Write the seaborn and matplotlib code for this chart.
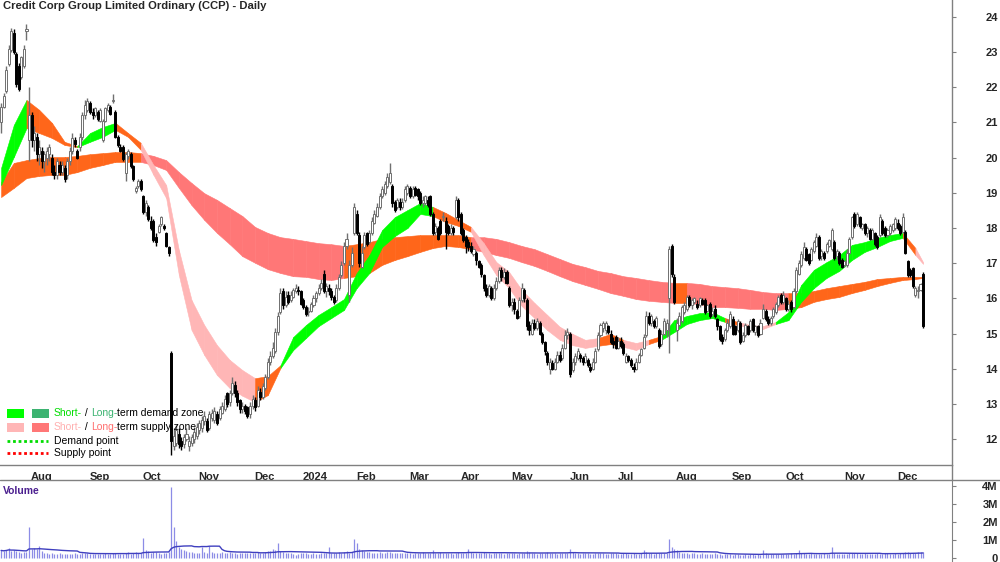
import numpy as np
import pandas as pd
import matplotlib
matplotlib.use("Agg")
import matplotlib.pyplot as plt
import matplotlib.transforms as mtransforms
from matplotlib.patches import Rectangle
from matplotlib.lines import Line2D
import seaborn as sns

sns.set_style("white")
plt.rcParams['font.family'] = ['Liberation Sans', 'DejaVu Sans']

# ---------------- data ----------------
title = "Credit Corp Group Limited Ordinary (CCP) - Daily"
start_date = "2023-07-17"
end_date = "2024-12-17"
holidays = ["2023-12-25", "2023-12-26", "2024-01-01", "2024-01-26",
            "2024-03-29", "2024-04-01", "2024-04-25", "2024-06-10"]

opens = [
    21.0, 21.45, 21.9, 22.65, 23.05, 23.55, 22.95, 22.6, 22.3, 22.6, 23.6,
    20.5, 21.2, 20.5, 20.6, 20.1, 20.2, 19.9, 20.0, 20.1, 20.0, 19.6, 19.5, 19.8, 19.6, 19.7, 19.5, 19.9, 20.2, 20.5, 20.2, 20.3, 20.6, 21.2,
    21.35, 21.55, 21.3, 21.2, 21.3, 21.05, 20.5, 21.05, 21.35, 21.45, 21.6, 21.3, 20.6, 20.3, 20.3, 19.55, 20.05, 20.1, 19.75, 19.05, 19.2,
    19.35, 18.9, 18.45, 18.6, 18.2, 18.2, 17.75, 17.9, 18.1, 18.05, 17.85, 17.45, 14.45, 11.8, 11.9, 12.15, 11.95, 11.85, 12.0, 11.8, 11.9, 12.0,
    12.1, 12.25, 12.3, 12.5, 12.5, 12.3, 12.6, 12.55, 12.7, 12.6, 12.75, 12.85, 13.3, 13.05, 13.3, 13.55, 13.3, 13.1, 12.85, 12.95, 12.9, 12.7,
    12.95, 13.1, 12.95, 13.35, 13.2, 13.45, 13.75, 14.2, 14.35, 14.5, 15.05, 15.6, 16.2, 15.8, 16.1, 15.95, 16.05, 16.2, 16.25,
    16.2, 15.95, 15.75, 15.6, 15.65, 15.8, 16.0, 16.15, 16.3, 16.7, 16.2, 16.3, 16.2, 16.05, 15.95, 16.3, 16.65, 17.0, 17.5, 16.1, 16.95,
    17.85, 18.4, 17.8, 16.9, 17.45, 17.85, 17.6, 17.85, 18.15, 18.35, 18.6, 18.9, 19.0, 19.2, 19.3, 19.2, 18.75, 18.6, 18.75, 18.6, 18.8,
    19.0, 19.15, 18.9, 19.15, 19.1, 19.0, 18.7, 18.7, 18.8, 18.9, 18.4, 17.9, 18.0, 18.2, 18.3, 18.2, 18.05, 17.85, 18.0, 18.3,
    18.8, 18.4, 17.95, 17.75, 17.6, 17.5, 17.25, 17.3, 17.05, 16.95, 16.65, 16.3, 16.1, 16.3, 16.0, 16.3, 16.5, 16.8, 16.6, 16.75,
    16.3, 15.8, 15.9, 15.65, 15.5, 15.95, 16.25, 15.95, 15.25, 15.0, 15.3, 15.15, 15.3, 15.0, 14.75, 14.45, 14.0, 14.15, 14.0, 14.2, 14.4, 14.3, 14.6,
    14.95, 15.0, 13.95, 14.2, 14.3, 14.4, 14.3, 14.2, 14.25, 14.05, 14.0, 14.2, 14.55, 14.95, 15.15, 15.1, 15.2, 15.0, 14.8,
    14.9, 14.6, 14.8, 14.7, 14.2, 14.35, 14.25, 14.05, 14.0, 14.2, 14.4, 14.6, 14.95, 15.5, 15.3, 15.35, 15.2, 15.1, 14.7, 15.0, 15.1, 16.0, 17.5,
    16.6, 15.1, 15.25, 15.35, 15.6, 15.7, 16.05, 15.8, 15.9, 15.85, 15.8, 15.95, 15.95, 15.65, 15.85, 15.55, 15.7, 15.4, 15.2, 14.9, 14.85, 15.1,
    15.2, 15.4, 15.2, 15.1, 15.3, 14.8, 14.95, 15.2, 15.1, 15.4, 15.05, 15.2, 15.0, 15.45, 15.65, 15.4, 15.3, 15.5, 15.6, 15.8, 16.1,
    15.9, 16.0, 15.7, 15.9, 15.75, 16.2, 16.7, 16.95, 17.15, 17.4, 17.25, 17.1, 17.35, 17.5, 17.75, 17.2, 17.3, 17.35, 17.5, 17.4, 17.6, 17.2, 17.3,
    17.1, 16.95, 16.95, 17.3, 17.75, 18.4, 18.1, 18.3, 18.0, 18.1, 17.85, 17.95, 17.7, 17.85, 17.75, 17.8, 18.2, 18.0, 17.8, 17.85, 17.95,
    18.0, 18.15, 18.05, 17.9, 17.9, 17.05, 16.8, 16.85, 16.1, 16.2, 16.25, 16.7,
]
highs = [
    21.55, 21.85, 22.6, 23.2, 23.7, 23.65, 23.0, 22.7, 22.9, 23.2, 23.8,
    22.0, 21.3, 20.9, 20.7, 20.5, 20.3, 20.2, 20.3, 20.4, 20.1, 19.8, 20.0, 19.9, 19.9, 19.8, 20.0, 20.3, 20.7, 20.6, 20.25, 20.7, 21.3, 21.65,
    21.7, 21.6, 21.4, 21.45, 21.35, 21.4, 21.1, 21.45, 21.55, 21.5, 21.8, 21.35, 20.65, 20.4, 20.35, 20.15, 20.25, 20.15, 19.8, 19.2, 19.4,
    19.4, 18.95, 18.8, 18.65, 18.35, 18.25, 17.85, 18.1, 18.35, 18.1, 17.9, 17.5, 14.5, 12.3, 12.4, 12.3, 12.05, 12.15, 12.3, 12.1, 12.15, 12.35,
    12.45, 12.55, 12.65, 12.8, 12.6, 12.8, 12.85, 12.9, 12.8, 12.95, 13.05, 13.25, 13.35, 13.4, 13.75, 13.65, 13.4, 13.15, 13.05, 13.0, 12.95, 13.05,
    13.25, 13.2, 13.5, 13.45, 13.6, 13.85, 14.3, 14.5, 14.75, 15.15, 15.6, 16.3, 16.3, 16.2, 16.2, 16.2, 16.3, 16.4, 16.35,
    16.25, 16.0, 15.8, 15.75, 15.9, 16.1, 16.2, 16.4, 16.55, 16.8, 16.45, 16.4, 16.3, 16.1, 16.4, 16.7, 17.05, 17.6, 17.85, 17.1, 17.45,
    18.7, 18.5, 17.9, 17.5, 17.9, 17.9, 17.95, 18.3, 18.5, 18.7, 19.0, 19.2, 19.35, 19.55, 19.85, 19.25, 18.8, 18.85, 18.85, 18.85, 19.2,
    19.25, 19.2, 19.2, 19.2, 19.15, 19.05, 18.9, 18.95, 18.9, 18.95, 18.45, 18.15, 18.05, 18.25, 18.45, 18.3, 18.1, 18.1, 18.05, 18.9,
    18.85, 18.45, 18.0, 17.8, 17.7, 17.6, 17.5, 17.35, 17.1, 17.0, 16.7, 16.4, 16.4, 16.35, 16.4, 16.6, 16.9, 16.9, 16.85, 16.8,
    16.35, 16.0, 16.0, 15.7, 16.05, 16.45, 16.3, 16.0, 15.35, 15.4, 15.4, 15.45, 15.35, 15.05, 14.8, 14.5, 14.3, 14.25, 14.3, 14.5, 14.5, 14.7, 15.1,
    15.15, 15.05, 14.3, 14.45, 14.6, 14.45, 14.35, 14.45, 14.3, 14.15, 14.3, 14.6, 15.05, 15.3, 15.35, 15.35, 15.25, 15.1, 14.9,
    14.95, 14.9, 14.9, 14.75, 14.45, 14.4, 14.3, 14.15, 14.3, 14.45, 14.6, 15.0, 15.65, 15.6, 15.55, 15.4, 15.5, 15.15, 15.1, 15.45, 15.4, 17.5, 17.55,
    16.7, 15.45, 15.6, 15.8, 15.9, 16.1, 16.1, 16.0, 16.05, 15.95, 16.05, 16.0, 16.0, 15.85, 15.9, 15.75, 15.8, 15.45, 15.25, 15.0, 15.15, 15.4,
    15.65, 15.5, 15.25, 15.4, 15.35, 15.05, 15.3, 15.25, 15.4, 15.45, 15.25, 15.25, 15.4, 15.85, 15.7, 15.5, 15.5, 15.75, 15.9, 16.1, 16.15,
    16.2, 16.05, 15.95, 15.95, 16.3, 16.9, 17.1, 17.35, 17.6, 17.45, 17.3, 17.45, 17.65, 17.85, 17.8, 17.4, 17.35, 17.6, 17.7, 18.0, 17.65, 17.4, 17.35,
    17.15, 17.1, 17.4, 17.75, 18.35, 18.45, 18.45, 18.35, 18.15, 18.15, 18.05, 18.0, 18.0, 17.9, 17.8, 18.4, 18.25, 18.05, 18.0, 18.1, 18.15,
    18.3, 18.25, 18.1, 18.42, 17.95, 17.1, 16.85, 16.9, 16.35, 16.35, 16.45, 16.75,
]
lows = [
    20.7, 21.4, 21.85, 22.6, 23.0, 22.95, 22.0, 21.9, 22.25, 22.55, 23.35,
    19.9, 20.3, 20.2, 19.9, 19.8, 19.7, 19.6, 19.8, 19.9, 19.5, 19.4, 19.4, 19.5, 19.5, 19.3, 19.4, 19.8, 20.1, 20.3, 19.95, 20.2, 20.5, 21.1,
    21.3, 21.25, 21.1, 21.15, 21.05, 21.0, 20.45, 21.0, 21.3, 21.2, 21.55, 20.55, 20.3, 20.15, 19.9, 19.35, 19.95, 19.7, 19.35, 19.0, 19.15,
    19.05, 18.4, 18.35, 18.2, 17.95, 17.6, 17.5, 17.85, 18.05, 17.95, 17.45, 17.2, 11.55, 11.7, 11.8, 11.75, 11.7, 11.75, 11.95, 11.65, 11.8, 11.9,
    12.0, 12.15, 12.2, 12.4, 12.2, 12.25, 12.5, 12.45, 12.4, 12.55, 12.7, 12.8, 12.9, 12.95, 13.25, 13.2, 12.95, 12.75, 12.75, 12.7, 12.6, 12.6,
    12.85, 12.8, 12.9, 13.1, 13.15, 13.4, 13.7, 14.1, 14.3, 14.45, 14.95, 15.55, 15.7, 15.75, 15.85, 15.9, 16.0, 16.15, 16.1,
    15.8, 15.7, 15.5, 15.5, 15.6, 15.75, 15.9, 16.1, 16.25, 16.15, 16.05, 16.1, 15.95, 15.85, 15.9, 16.25, 16.6, 16.95, 17.4, 15.9, 16.9,
    17.8, 17.8, 16.9, 16.85, 17.4, 17.5, 17.55, 17.8, 18.1, 18.3, 18.55, 18.85, 18.95, 19.15, 19.25, 18.6, 18.45, 18.55, 18.5, 18.55, 18.75,
    18.95, 18.85, 18.85, 18.9, 18.8, 18.65, 18.6, 18.65, 18.6, 18.35, 17.8, 17.8, 17.65, 17.8, 18.2, 17.4, 17.8, 17.8, 17.8, 18.25,
    18.2, 17.8, 17.6, 17.3, 17.35, 17.3, 17.2, 16.95, 16.85, 16.6, 16.2, 16.05, 16.05, 15.95, 15.95, 16.25, 16.45, 16.5, 16.55, 16.4,
    15.75, 15.65, 15.55, 15.4, 15.45, 15.9, 15.9, 15.1, 14.95, 14.95, 15.1, 15.1, 14.95, 14.7, 14.4, 14.1, 13.85, 13.95, 13.95, 14.15, 14.2, 14.25, 14.55,
    14.85, 13.75, 13.9, 14.1, 14.25, 14.2, 14.1, 14.15, 14.05, 13.9, 13.95, 14.15, 14.5, 14.9, 15.05, 15.0, 15.0, 14.7, 14.6,
    14.55, 14.55, 14.6, 14.4, 14.15, 14.2, 14.05, 13.9, 13.95, 14.15, 14.35, 14.55, 14.9, 15.25, 15.2, 15.15, 15.15, 14.6, 14.65, 14.95, 14.9, 14.45, 16.6,
    15.85, 14.8, 15.2, 15.3, 15.55, 15.65, 15.75, 15.7, 15.85, 15.7, 15.75, 15.8, 15.55, 15.6, 15.45, 15.5, 15.45, 15.1, 14.8, 14.7, 14.8, 15.05,
    15.15, 14.95, 14.95, 15.05, 14.7, 14.75, 14.9, 14.95, 15.05, 15.05, 14.95, 14.9, 14.95, 15.4, 15.35, 15.25, 15.25, 15.45, 15.55, 15.75, 15.85,
    15.85, 15.65, 15.65, 15.6, 15.7, 16.15, 16.65, 16.9, 17.1, 17.05, 16.95, 17.05, 17.3, 17.45, 17.1, 17.1, 17.1, 17.3, 17.45, 17.35, 17.1, 17.1, 16.95,
    16.85, 16.9, 16.9, 17.25, 17.7, 18.0, 18.05, 18.0, 17.95, 17.8, 17.75, 17.65, 17.65, 17.5, 17.4, 17.75, 17.8, 17.75, 17.75, 17.8, 17.9,
    17.95, 17.95, 17.8, 17.85, 17.25, 16.6, 16.6, 16.3, 16.05, 16.0, 16.2, 15.15,
]
closes = [
    21.45, 21.75, 22.5, 23.1, 23.6, 23.0, 22.1, 21.95, 22.85, 23.1, 23.65,
    21.2, 20.5, 20.7, 20.1, 20.3, 19.9, 20.1, 20.2, 20.3, 19.6, 19.5, 19.9, 19.6, 19.8, 19.4, 19.9, 20.2, 20.55, 20.4, 20.0, 20.6, 21.2, 21.5,
    21.6, 21.3, 21.2, 21.4, 21.1, 21.35, 21.05, 21.4, 21.5, 21.25, 21.65, 20.6, 20.35, 20.2, 19.95, 20.1, 20.2, 19.75, 19.4, 19.15, 19.35,
    19.1, 18.45, 18.7, 18.25, 18.0, 17.65, 17.6, 18.05, 18.3, 18.0, 17.5, 17.3, 11.95, 12.1, 12.25, 11.85, 11.8, 12.05, 12.15, 11.95, 12.05, 12.2,
    12.35, 12.45, 12.55, 12.65, 12.25, 12.7, 12.75, 12.8, 12.45, 12.85, 12.95, 13.15, 13.0, 13.3, 13.6, 13.3, 13.05, 12.85, 12.95, 12.8, 12.65, 12.95,
    13.15, 12.9, 13.4, 13.2, 13.5, 13.75, 14.2, 14.35, 14.6, 15.05, 15.5, 16.15, 15.8, 16.05, 15.9, 16.1, 16.25, 16.3, 16.2,
    15.85, 15.75, 15.55, 15.65, 15.85, 16.0, 16.15, 16.3, 16.45, 16.2, 16.35, 16.2, 16.05, 15.9, 16.3, 16.6, 16.95, 17.5, 17.7, 16.95, 17.3,
    18.6, 17.85, 17.0, 17.3, 17.8, 17.55, 17.85, 18.2, 18.4, 18.6, 18.9, 19.1, 19.25, 19.45, 19.55, 18.7, 18.5, 18.8, 18.6, 18.75, 19.1,
    19.2, 18.9, 19.1, 18.95, 18.9, 18.7, 18.8, 18.9, 18.65, 18.4, 17.85, 18.05, 17.7, 17.85, 18.35, 17.9, 17.85, 18.0, 17.9, 18.8,
    18.3, 17.85, 17.65, 17.5, 17.45, 17.35, 17.4, 17.1, 16.9, 16.7, 16.3, 16.1, 16.35, 16.0, 16.3, 16.5, 16.8, 16.6, 16.75, 16.45,
    15.8, 15.9, 15.7, 15.45, 15.95, 16.3, 16.0, 15.2, 15.1, 15.3, 15.15, 15.35, 15.0, 14.75, 14.5, 14.2, 14.2, 14.0, 14.2, 14.4, 14.25, 14.6, 14.95,
    15.05, 13.85, 14.2, 14.35, 14.5, 14.3, 14.2, 14.35, 14.1, 13.95, 14.2, 14.5, 14.95, 15.25, 15.3, 15.3, 15.05, 14.75, 14.7,
    14.6, 14.8, 14.65, 14.45, 14.35, 14.25, 14.1, 14.0, 14.2, 14.4, 14.55, 14.9, 15.5, 15.3, 15.5, 15.2, 15.45, 14.65, 15.0, 15.35, 15.3, 17.4, 16.7,
    15.9, 15.3, 15.5, 15.75, 15.8, 16.05, 15.8, 15.95, 16.0, 15.75, 16.0, 15.85, 15.6, 15.8, 15.5, 15.65, 15.5, 15.2, 14.85, 14.8, 15.1, 15.3,
    15.55, 15.0, 15.0, 15.35, 14.75, 14.95, 15.25, 15.0, 15.35, 15.1, 15.2, 14.95, 15.3, 15.7, 15.4, 15.3, 15.45, 15.7, 15.85, 16.05, 15.9,
    16.1, 15.7, 15.85, 15.7, 16.2, 16.8, 17.0, 17.25, 17.45, 17.1, 17.0, 17.4, 17.6, 17.75, 17.15, 17.35, 17.15, 17.55, 17.65, 17.95, 17.15, 17.35, 17.0,
    16.9, 17.05, 17.3, 17.7, 18.3, 18.05, 18.4, 18.05, 18.1, 17.85, 18.0, 17.7, 17.95, 17.55, 17.45, 18.3, 17.85, 17.8, 17.95, 18.05, 18.1,
    18.25, 18.0, 17.85, 18.3, 17.3, 16.65, 16.65, 16.35, 16.3, 16.25, 16.4, 15.2,
]
volume_k = [
    420, 380, 450, 550, 400, 430, 380, 350, 300, 330, 360,
    1700, 520, 560, 480, 650, 380, 300, 260, 240, 280, 250, 230, 260, 220, 240, 210, 250, 230, 260, 240, 220, 280, 300,
    260, 240, 220, 250, 230, 210, 240, 260, 220, 200, 280, 300, 250, 230, 220, 260, 350, 240, 280, 320, 260,
    300, 1100, 420, 380, 300, 360, 320, 260, 240, 280, 300, 320, 3930, 1750, 960, 600, 480, 420, 380, 350, 320, 300,
    280, 300, 600, 350, 300, 650, 320, 280, 260, 300, 320, 280, 300, 350, 280, 260, 240, 300, 260, 280, 300, 260,
    280, 300, 320, 280, 300, 350, 380, 400, 500, 450, 840, 400, 350, 300, 280, 260, 200, 180, 220,
    260, 280, 300, 240, 220, 260, 250, 240, 280, 300, 260, 600, 280, 260, 300, 320, 280, 350, 380, 300, 320,
    1040, 840, 500, 420, 380, 350, 320, 300, 280, 300, 320, 280, 300, 350, 320, 280, 260, 300, 280, 260, 280,
    260, 280, 240, 300, 260, 280, 320, 300, 280, 260, 470, 300, 280, 320, 260, 280, 300, 260, 240, 300,
    320, 280, 300, 260, 500, 320, 280, 300, 260, 280, 320, 300, 260, 240, 280, 300, 260, 280, 240, 260,
    300, 280, 260, 240, 280, 300, 260, 380, 320, 280, 260, 240, 300, 280, 260, 320, 300, 280, 260, 240, 280, 300, 260,
    300, 500, 320, 280, 260, 240, 280, 300, 260, 240, 220, 260, 280, 300, 260, 240, 220, 260, 280,
    260, 240, 220, 260, 280, 240, 220, 260, 240, 220, 260, 470, 320, 280, 260, 240, 280, 300, 260, 280, 300, 1070, 600,
    520, 420, 350, 300, 280, 260, 240, 280, 260, 240, 220, 260, 240, 220, 200, 240, 260, 220, 200, 180, 200, 220,
    200, 180, 200, 220, 180, 160, 200, 180, 220, 200, 180, 200, 180, 440, 260, 220, 200, 220, 240, 200, 220,
    240, 220, 200, 260, 240, 280, 420, 300, 260, 240, 220, 260, 240, 200, 220, 240, 260, 220, 200, 600, 280, 240, 220,
    220, 200, 240, 260, 280, 300, 260, 240, 220, 260, 240, 220, 200, 240, 260, 220, 240, 260, 280, 240, 220,
    260, 240, 280, 300, 320, 340, 300, 280, 300, 320, 340, 360,
]

# trend-zone bands, read every 5 trading days (plus last day)
band_days = list(range(0, 361, 5)) + [363]
short_top = [19.71, 20.93, 21.64, 21.36, 20.99, 20.45, 20.33, 20.70, 20.87, 20.99, 20.70, 20.42, 19.79, 19.22, 17.37,
             15.95, 15.24, 14.67, 14.25, 13.96, 13.73, 13.79, 14.10, 14.90, 15.24, 15.53, 15.75, 15.98, 16.72, 17.23,
             17.94, 18.31, 18.51, 18.71, 18.60, 18.43, 18.23, 18.03, 17.57, 17.03, 16.75, 16.24, 15.87, 15.53, 15.19,
             14.99, 14.82, 14.87, 14.99, 14.82, 14.73, 14.82, 14.93, 15.38, 15.50, 15.58, 15.61, 15.44, 15.33, 15.24,
             15.21, 15.33, 15.61, 16.38, 16.81, 17.03, 17.23, 17.52, 17.60, 17.72, 17.80, 17.86, 17.43, 17.03]
short_bot = [19.22, 20.02, 20.84, 20.70, 20.56, 20.36, 20.30, 20.45, 20.59, 20.79, 20.59, 20.22, 19.51, 18.85, 16.66,
             15.10, 14.39, 13.82, 13.45, 13.23, 13.05, 13.25, 14.02, 14.53, 14.87, 15.21, 15.44, 15.67, 16.29, 16.72,
             17.46, 17.77, 18.00, 18.40, 18.34, 18.17, 18.06, 17.89, 17.23, 16.66, 16.29, 15.78, 15.44, 15.10, 14.82,
             14.67, 14.59, 14.65, 14.70, 14.62, 14.53, 14.70, 14.82, 15.04, 15.27, 15.38, 15.44, 15.33, 15.24, 15.16,
             15.13, 15.27, 15.38, 15.90, 16.29, 16.58, 16.78, 17.09, 17.32, 17.46, 17.63, 17.72, 17.23, 16.98]
long_top = [19.31, 19.85, 19.93, 19.99, 20.02, 20.02, 20.05, 20.10, 20.13, 20.16, 20.16, 20.13, 20.05, 19.93, 19.59,
            19.28, 18.99, 18.80, 18.57, 18.34, 18.03, 17.86, 17.74, 17.69, 17.63, 17.57, 17.54, 17.49, 17.54, 17.60,
            17.69, 17.74, 17.77, 17.80, 17.80, 17.80, 17.80, 17.74, 17.74, 17.69, 17.60, 17.49, 17.40, 17.26, 17.12,
            16.98, 16.89, 16.78, 16.72, 16.63, 16.58, 16.52, 16.47, 16.44, 16.44, 16.41, 16.35, 16.32, 16.29, 16.24,
            16.18, 16.15, 16.15, 16.15, 16.21, 16.29, 16.35, 16.41, 16.47, 16.55, 16.58, 16.61, 16.61, 16.61]
long_bot = [18.88, 19.14, 19.42, 19.48, 19.51, 19.51, 19.59, 19.71, 19.79, 19.88, 19.88, 19.88, 19.79, 19.65, 19.14,
            18.65, 18.23, 17.86, 17.54, 17.20, 17.01, 16.83, 16.72, 16.63, 16.61, 16.55, 16.52, 16.58, 16.63, 16.72,
            16.95, 17.09, 17.20, 17.32, 17.43, 17.49, 17.46, 17.40, 17.32, 17.23, 17.15, 17.03, 16.92, 16.78, 16.63,
            16.49, 16.38, 16.27, 16.15, 16.07, 15.98, 15.93, 15.90, 15.87, 15.87, 15.84, 15.75, 15.75, 15.73, 15.70,
            15.70, 15.67, 15.70, 15.75, 15.90, 15.98, 16.04, 16.15, 16.24, 16.35, 16.44, 16.52, 16.55, 16.58]
# zone state per segment: D = demand, S = supply, T = transition (orange)
short_state = list("DDTTTTDDDTTSSSSSSSSSTTDDDDDDDDDDDDTTTSSSSSSSSSSTTSSTDDDDDTSSSDDDDDDDDDDTSS")
long_state = list("TTTTTTTTTTT" "SSSSSSSSSSSSSSSS" "TTTTTTTTTT" "SSSSSSSSSSSSSSSS" "T" "SSSSSSSS" "TTTTTTTTTTTT")

month_labels = ["Aug", "Sep", "Oct", "Nov", "Dec", "2024", "Feb", "Mar", "Apr", "May",
                "Jun", "Jul", "Aug", "Sep", "Oct", "Nov", "Dec"]
price_ticks = [12, 13, 14, 15, 16, 17, 18, 19, 20, 21, 22, 23, 24]
volume_ticks = [0, 1e6, 2e6, 3e6, 4e6]
volume_tick_labels = ["0", "1M", "2M", "3M", "4M"]

legend_rows = [
    [("Short-", "#00dd00"), (" / ", "black"), ("Long-", "#3cb371"), ("term demand zone", "black")],
    [("Short-", "#ffb0b0"), (" / ", "black"), ("Long-", "#ff6f6f"), ("term supply zone", "black")],
    [("Demand point", "black")],
    [("Supply point", "black")],
]

# ---------------- build ----------------
dates = pd.bdate_range(start_date, end_date, freq="C", holidays=holidays)
n = len(dates)
o = np.array(opens); h = np.array(highs); l = np.array(lows); c = np.array(closes)
vol = np.array(volume_k, dtype=float) * 1000
assert n == len(o) == len(h) == len(l) == len(c) == len(vol), (n, len(o), len(h), len(l), len(c), len(vol))
assert len(band_days) == len(short_top) == len(short_bot) == len(long_top) == len(long_bot) == len(short_state) == len(long_state)
xd = np.arange(n)

W, H = 1000, 562
fig = plt.figure(figsize=(W / 100, H / 100), dpi=100)
fig.patch.set_facecolor("white")
ax = fig.add_axes([0, 1 - 465 / H, 952 / W, 465 / H])
axv = fig.add_axes([0, 0, 952 / W, 82 / H])

grey = "#808080"
short_pal = {"D": "#00ff00", "S": "#ffb6b6", "T": "#ff661a"}
long_pal = {"D": "#3cb371", "S": "#ff7777", "T": "#ff661a"}

bx = np.array(band_days, dtype=float)
def draw_band(top, bot, states, pal, z):
    top = np.array(top); bot = np.array(bot)
    for k in range(len(bx) - 1):
        col = pal[states[k]]
        ax.fill_between(bx[k:k + 2], bot[k:k + 2], top[k:k + 2], facecolor=col,
                        edgecolor=col, linewidth=0.4, zorder=z)

draw_band(long_top, long_bot, long_state, long_pal, 1)
draw_band(short_top, short_bot, short_state, short_pal, 2)

up = c >= o
ax.vlines(xd[up], l[up], h[up], color="#707070", lw=1.0, zorder=3)
ax.vlines(xd[~up], l[~up], h[~up], color="black", lw=1.0, zorder=3)
body_lo = np.minimum(o, c)
body_h = np.maximum(np.abs(c - o), 0.03)
ax.bar(xd[up], body_h[up], bottom=body_lo[up], width=0.8, facecolor="white",
       edgecolor="#707070", linewidth=0.7, zorder=4)
ax.bar(xd[~up], body_h[~up], bottom=body_lo[~up], width=0.8, facecolor="black",
       edgecolor="black", linewidth=0.7, zorder=4)

xlim = (-0.43, 374.4)
ax.set_xlim(*xlim)
ax.set_ylim(24.483 - 465 / 35.17, 24.483)

month_starts = [i for i in range(1, n) if dates[i].month != dates[i - 1].month]
ax.set_xticks(month_starts)
ax.set_xticklabels(month_labels, fontweight="bold", ha="left", fontsize=8)
ax.tick_params(axis="x", direction="out", length=4, width=0.8, color=grey, pad=1)
shift = mtransforms.ScaledTranslation(2 / 100, 0, fig.dpi_scale_trans)
for lbl in ax.get_xticklabels():
    lbl.set_transform(lbl.get_transform() + shift)

ax.yaxis.tick_right()
ax.set_yticks(price_ticks)
ax.set_yticklabels([str(t) for t in price_ticks], fontweight="bold", ha="right", fontsize=8)
ax.tick_params(axis="y", direction="out", length=3, width=0.8, color=grey, pad=30)
for s in ["left", "top"]:
    ax.spines[s].set_visible(False)
for s in ["right", "bottom"]:
    ax.spines[s].set_color(grey); ax.spines[s].set_linewidth(1)
ax.set_facecolor("white")

# volume panel
axv.vlines(xd, 0, vol, color="#8c8ce6", lw=0.9)
vol_ma = pd.Series(vol).rolling(20, min_periods=1).mean().values
sns.lineplot(x=xd, y=vol_ma, ax=axv, color="#3f3fbf", lw=1.0, legend=False)
axv.set_xlim(*xlim)
axv.set_ylim(-4 / 18 * 1e6, (558 - 480) / 18 * 1e6)
axv.set_xticks([])
axv.set_xlabel(""); axv.set_ylabel("")
axv.yaxis.tick_right()
axv.set_yticks(volume_ticks)
axv.set_yticklabels(volume_tick_labels, fontweight="bold", ha="right", fontsize=8)
axv.tick_params(axis="y", direction="out", length=3, width=0.8, color=grey, pad=30)
for s in ["left", "top", "bottom"]:
    axv.spines[s].set_visible(False)
axv.spines["right"].set_color(grey)
axv.text(0.003, 0.93, "Volume", transform=axv.transAxes, color="#4b1f8f",
         fontweight="bold", fontsize=7.5, va="top", ha="left")

fig.add_artist(Line2D([952 / W, 952 / W], [1 - 480 / H, 1 - 465 / H], transform=fig.transFigure, color=grey, lw=1))
fig.add_artist(Line2D([0, 1], [1 - 480 / H, 1 - 480 / H], transform=fig.transFigure, color=grey, lw=1))

# title
renderer = fig.canvas.get_renderer()
t = fig.text(3 / W, 1 - 1 / H, title, fontweight="bold", fontsize=9, va="top", ha="left")
tw = t.get_window_extent(renderer).width
t.set_fontsize(9 * 265 / tw)

# legend
def fx(px): return px / W
def fy(py): return 1 - py / H

fig.add_artist(Rectangle((fx(7), fy(418)), 17 / W, 9 / H, transform=fig.transFigure, color=short_pal["D"], lw=0))
fig.add_artist(Rectangle((fx(32), fy(418)), 17 / W, 9 / H, transform=fig.transFigure, color=long_pal["D"], lw=0))
fig.add_artist(Rectangle((fx(7), fy(432)), 17 / W, 9 / H, transform=fig.transFigure, color=short_pal["S"], lw=0))
fig.add_artist(Rectangle((fx(32), fy(432)), 17 / W, 9 / H, transform=fig.transFigure, color=long_pal["S"], lw=0))
fig.add_artist(Line2D([fx(7), fx(48)], [fy(441), fy(441)], transform=fig.transFigure,
                      color="#00dd00", lw=2, linestyle=(0, (1, 1))))
fig.add_artist(Line2D([fx(7), fx(48)], [fy(453), fy(453)], transform=fig.transFigure,
                      color="#ff0000", lw=2, linestyle=(0, (1, 1))))

row_y = [413, 427, 441, 453]
fs_leg = 7.5
for parts, py in zip(legend_rows, row_y):
    xcur = 54
    for s, col in parts:
        tt = fig.text(fx(xcur), fy(py), s, color=col, fontsize=fs_leg, va="center", ha="left", zorder=5)
        xcur += tt.get_window_extent(renderer).width

fig.savefig("out.png", dpi=100, facecolor="white")
